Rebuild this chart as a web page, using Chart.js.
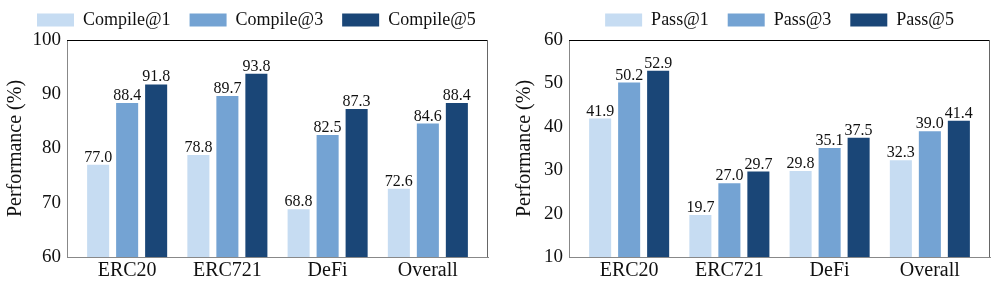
<!DOCTYPE html>
<html>
<head>
<meta charset="utf-8">
<script src="https://cdn.jsdelivr.net/npm/chart.js@4.4.1/dist/chart.umd.min.js"></script>
<style>
  html, body { margin: 0; padding: 0; background: #fff; }
  #wrap { position: relative; width: 996px; height: 288px; }
  canvas { position: absolute; top: 0; }
  #left { left: 0; }
  #right { left: 500px; }
</style>
</head>
<body>
<div id="wrap">
  <canvas id="left" width="500" height="288"></canvas>
  <canvas id="right" width="496" height="288"></canvas>
</div>
<script>
const categories = ["ERC20", "ERC721", "DeFi", "Overall"];

const compileLabels = ["Compile@1", "Compile@3", "Compile@5"];
const compile1 = [77.0, 78.8, 68.8, 72.6];
const compile3 = [88.4, 89.7, 82.5, 84.6];
const compile5 = [91.8, 93.8, 87.3, 88.4];

const passLabels = ["Pass@1", "Pass@3", "Pass@5"];
const pass1 = [41.9, 19.7, 29.8, 32.3];
const pass3 = [50.2, 27.0, 35.1, 39.0];
const pass5 = [52.9, 29.7, 37.5, 41.4];

const compileTicks = [60, 70, 80, 90, 100];
const passTicks = [10, 20, 30, 40, 50, 60];

const colors = ["#c6dcf2", "#74a3d3", "#1a4677"];

Chart.defaults.font.family = "'Liberation Serif', 'Times New Roman', serif";
Chart.defaults.color = "#111";

const toPoints = (vals) => vals.map((v, i) => ({ x: i, y: v }));

// shrink legend box so the plot starts right under it
const legendFit = {
  id: "legendFit",
  beforeInit(chart) {
    const fit = chart.legend.fit;
    chart.legend.fit = function () {
      fit.call(this);
      this.height = 48;
    };
  },
};

// numbers on top of every bar
const valueLabels = {
  id: "valueLabels",
  afterDatasetsDraw(chart) {
    const ctx = chart.ctx;
    ctx.save();
    ctx.font = "16px 'Liberation Serif'";
    ctx.fillStyle = "#111";
    ctx.textAlign = "center";
    ctx.textBaseline = "alphabetic";
    chart.data.datasets.forEach((ds, di) => {
      chart.getDatasetMeta(di).data.forEach((bar, i) => {
        ctx.fillText(ds.data[i].y.toFixed(1), bar.x, bar.y - 3);
      });
    });
    ctx.restore();
  },
};

// top and right edges of the axes box
const frame = {
  id: "frame",
  afterDraw(chart) {
    const { left, right, top, bottom } = chart.chartArea;
    const ctx = chart.ctx;
    ctx.save();
    ctx.lineWidth = 1;
    ctx.strokeStyle = "#000";
    ctx.beginPath();
    ctx.moveTo(left, top + 0.5);
    ctx.lineTo(right, top + 0.5);
    ctx.stroke();
    ctx.strokeStyle = "#666";
    ctx.beginPath();
    ctx.moveTo(right - 0.5, top);
    ctx.lineTo(right - 0.5, bottom);
    ctx.stroke();
    ctx.restore();
  },
};

function makeChart(id, names, series, yTicks, opts) {
  return new Chart(document.getElementById(id), {
    type: "bar",
    data: {
      datasets: series.map((vals, k) => ({
        label: names[k],
        data: toPoints(vals),
        backgroundColor: colors[k],
        borderWidth: 0,
        barPercentage: 0.76,
        categoryPercentage: 0.868,
      })),
    },
    options: {
      responsive: false,
      animation: false,
      layout: {
        padding: { top: -8, left: opts.padLeft, right: 0, bottom: 0 },
      },
      plugins: {
        legend: {
          position: "top",
          align: opts.legendAlign,
          fullSize: opts.legendFull,
          labels: {
            boxWidth: 37,
            boxHeight: 13,
            padding: 19,
            color: "#111",
            font: { size: 18 },
          },
        },
        tooltip: { enabled: false },
      },
      scales: {
        x: {
          type: "linear",
          min: -0.6,
          max: 3.6,
          offset: false,
          grid: { display: false, drawTicks: false },
          border: { display: true, color: "#888", width: 1 },
          afterBuildTicks: (scale) => {
            scale.ticks = categories.map((c, i) => ({ value: i }));
          },
          afterFit: (scale) => {
            scale.height = 31;
          },
          ticks: {
            autoSkip: false,
            maxRotation: 0,
            padding: 2,
            color: "#111",
            font: { size: 20 },
            callback: (v) => categories[v],
          },
        },
        y: {
          min: yTicks[0],
          max: yTicks[yTicks.length - 1],
          grid: { display: false, drawTicks: false },
          border: { display: true, color: "#888", width: 1 },
          afterBuildTicks: (scale) => {
            scale.ticks = yTicks.map((v) => ({ value: v }));
          },
          afterFit: (scale) => {
            scale.width = opts.yWidth;
          },
          ticks: {
            padding: 6,
            color: "#111",
            font: { size: 19 },
          },
          title: {
            display: true,
            text: "Performance (%)",
            color: "#111",
            font: { size: 20 },
            padding: { top: opts.titlePad, bottom: 0 },
          },
        },
        // empty strip on the right, only holds white space
        yRight: {
          position: "right",
          min: 0,
          max: 1,
          grid: { display: false, drawTicks: false },
          border: { display: false },
          ticks: { display: false },
          afterFit: (scale) => {
            scale.width = opts.rightGap;
          },
        },
      },
    },
    plugins: [legendFit, valueLabels, frame],
  });
}

makeChart("left", compileLabels, [compile1, compile3, compile5], compileTicks, {
  padLeft: 18,
  rightGap: 12,
  yWidth: 49,
  titlePad: -14,
  legendFull: true,
  legendAlign: "start",
});

makeChart("right", passLabels, [pass1, pass3, pass5], passTicks, {
  padLeft: 0,
  rightGap: 6,
  yWidth: 69,
  titlePad: 13,
  legendFull: false,
  legendAlign: "center",
});
</script>
</body>
</html>
